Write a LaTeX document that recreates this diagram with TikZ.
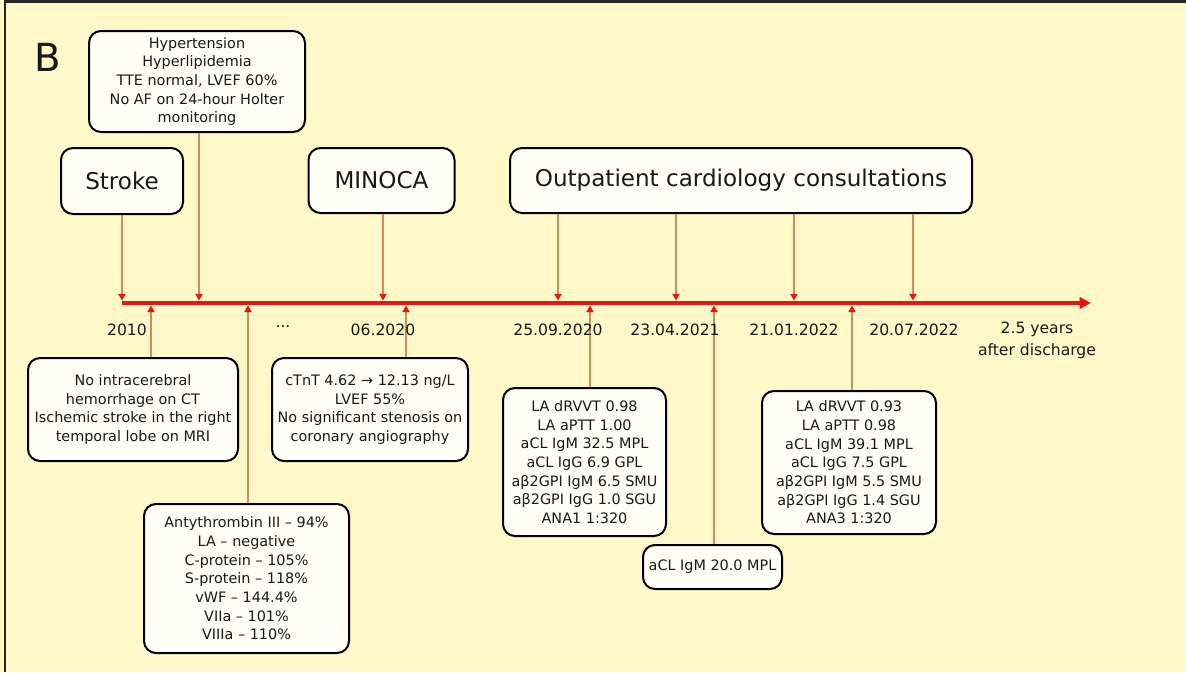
\documentclass[tikz,border=0pt]{standalone}
\usepackage{fontspec}
\setmainfont{DejaVu Sans}
\usetikzlibrary{arrows.meta}
\definecolor{bg}{RGB}{255,248,200}
\definecolor{conncol}{RGB}{205,140,95}
\definecolor{axiscol}{RGB}{235,20,20}
\definecolor{boxfill}{RGB}{255,255,246}
\definecolor{ink}{RGB}{25,25,25}
\begin{document}
\begin{tikzpicture}[x=0.75pt,y=-0.75pt,
  box/.style={draw=black, line width=1.5pt, rounded corners=9pt, fill=boxfill, align=center, inner sep=0pt, text=ink},
  small/.style={font=\fontsize{10.8}{14}\selectfont},
  big/.style={font=\fontsize{17.3}{20}\selectfont},
  datelab/.style={font=\fontsize{11.7}{16.5}\selectfont, align=center, text=ink},
  link/.style={draw=conncol, line width=0.8pt, -{Triangle[width=5.5pt,length=5pt,color=axiscol]}},
  axisline/.style={draw=axiscol, line width=3.2pt, -{Triangle[width=8.5pt,length=8.5pt]}},
]
\useasboundingbox (0,0) rectangle (1186,672);
\fill[bg] (0,0) rectangle (1186,672);
\draw[black!85, line width=1.6pt] (5,672) -- (5,1.5) -- (1186,1.5);

\node[font=\fontsize{29}{32}\selectfont, text=ink] (B) at (48,57) {B};

% top boxes
\node[box, small, minimum width=162pt, minimum height=75.75pt] (htn) at (197,81.5)
  {Hypertension\\Hyperlipidemia\\TTE normal, LVEF 60\%\\No AF on 24-hour Holter\\monitoring};
\node[box, big, minimum width=91.5pt, minimum height=49.5pt] (stroke) at (122,181) {Stroke};
\node[box, big, minimum width=109.5pt, minimum height=48.75pt] (minoca) at (381.5,180.5) {MINOCA};
\node[box, big, minimum width=346.5pt, minimum height=48.75pt] (outp) at (741,180.5) {Outpatient cardiology consultations};

% bottom boxes
\node[box, small, minimum width=157.5pt, minimum height=77.25pt] (b2010) at (133,409.5)
  {No intracerebral\\hemorrhage on CT\\Ischemic stroke in the right\\temporal lobe on MRI};
\node[box, small, minimum width=147pt, minimum height=77.25pt] (ctnt) at (370,409.5)
  {cTnT 4.62 → 12.13 ng/L\\LVEF 55\%\\No significant stenosis on\\coronary angiography};
\node[box, small, minimum width=153.75pt, minimum height=111.75pt] (anti) at (246.5,578.5)
  {Antythrombin III – 94\%\\LA – negative\\C-protein – 105\%\\S-protein – 118\%\\vWF – 144.4\%\\VIIa – 101\%\\VIIIa – 110\%};
\node[box, small, minimum width=122.25pt, minimum height=111pt] (la1) at (584.5,462)
  {LA dRVVT 0.98\\LA aPTT 1.00\\aCL IgM 32.5 MPL\\aCL IgG 6.9 GPL\\aβ2GPI IgM 6.5 SMU\\aβ2GPI IgG 1.0 SGU\\ANA1 1:320};
\node[box, small, minimum width=104.25pt, minimum height=33pt] (acl) at (712.5,567) {aCL IgM 20.0 MPL};
\node[box, small, minimum width=130.5pt, minimum height=107.25pt] (la3) at (849,462.5)
  {LA dRVVT 0.93\\LA aPTT 0.98\\aCL IgM 39.1 MPL\\aCL IgG 7.5 GPL\\aβ2GPI IgM 5.5 SMU\\aβ2GPI IgG 1.4 SGU\\ANA3 1:320};

% axis
\coordinate (ax0) at (122,303);
\coordinate (ax1) at (1091,303);
\draw[axisline] (ax0) -- (ax1);

% down arrow ends (top side of axis)
\coordinate (d1) at (122,300.5);
\coordinate (d2) at (199,300.5);
\coordinate (d3) at (383,300.5);
\coordinate (d4) at (558,300.5);
\coordinate (d5) at (676,300.5);
\coordinate (d6) at (794,300.5);
\coordinate (d7) at (913,300.5);
% up arrow ends (bottom side of axis)
\coordinate (u1) at (151,305.5);
\coordinate (u2) at (248,305.5);
\coordinate (u3) at (406,305.5);
\coordinate (u4) at (590,305.5);
\coordinate (u5) at (714,305.5);
\coordinate (u6) at (852,305.5);

\draw[link] (stroke.south -| d1) -- (d1);
\draw[link] (htn.south -| d2) -- (d2);
\draw[link] (minoca.south -| d3) -- (d3);
\draw[link] (outp.south -| d4) -- (d4);
\draw[link] (outp.south -| d5) -- (d5);
\draw[link] (outp.south -| d6) -- (d6);
\draw[link] (outp.south -| d7) -- (d7);

\draw[link] (b2010.north -| u1) -- (u1);
\draw[link] (anti.north -| u2) -- (u2);
\draw[link] (ctnt.north -| u3) -- (u3);
\draw[link] (la1.north -| u4) -- (u4);
\draw[link] (acl.north -| u5) -- (u5);
\draw[link] (la3.north -| u6) -- (u6);

% date labels
\node[datelab] (l2010) at (127,330) {2010};
\node[datelab] (ldots) at (283,327) {...};
\node[datelab] (l0620) at (383,330) {06.2020};
\node[datelab] (l2509) at (558,330) {25.09.2020};
\node[datelab] (l2304) at (675,330) {23.04.2021};
\node[datelab] (l2101) at (794,330) {21.01.2022};
\node[datelab] (l2007) at (914,330) {20.07.2022};
\node[datelab] (lafter) at (1037,340) {2.5 years\\after discharge};
\end{tikzpicture}
\end{document}
